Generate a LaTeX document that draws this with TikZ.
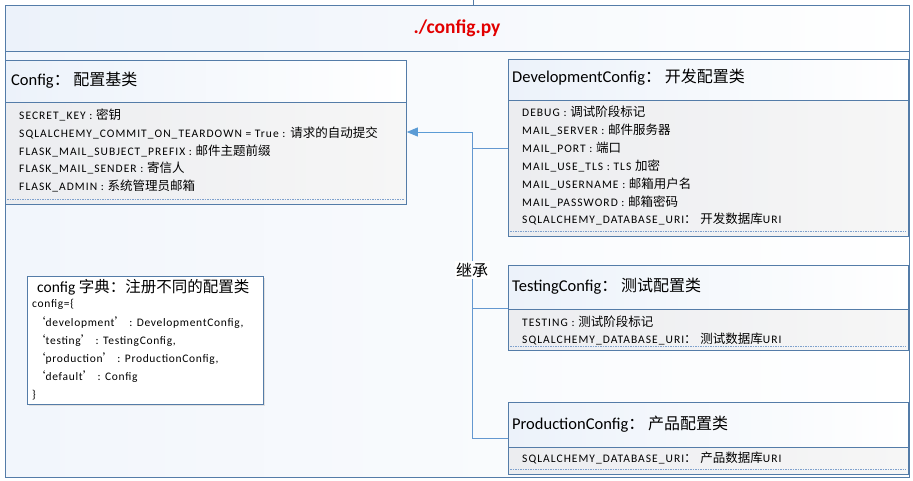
\documentclass[tikz,border=0pt]{standalone}
\usepackage{fontspec}
\setmainfont{Carlito}
\newfontfamily\cn{Noto Sans CJK SC}
\newfontfamily\itemfont[LetterSpace=9]{Carlito}
\newfontfamily\dictfont[LetterSpace=6]{Carlito}
\usetikzlibrary{arrows.meta}
\definecolor{bd}{RGB}{84,124,168}
\definecolor{dsh}{RGB}{125,160,205}
\definecolor{lnk}{RGB}{100,152,208}
\definecolor{arr}{RGB}{91,155,213}
\definecolor{hdrL}{RGB}{236,242,250}
\definecolor{bodyL}{RGB}{236,237,240}
\definecolor{bodyR}{RGB}{246,246,246}
\definecolor{ttl}{RGB}{226,0,0}
\newcommand{\zh}[1]{{\cn #1}}
\newcommand{\hz}[1]{{\cn\fontsize{16}{18}\selectfont #1}}
\newcommand{\iz}[1]{{\cn\fontsize{12.5}{14}\selectfont #1}}
\tikzset{
  frame/.style={draw=bd, line width=0.8pt},
  classbox/.style={draw=bd, line width=0.8pt, anchor=north west, inner sep=0pt},
  hdrfill/.style={left color=hdrL, right color=white},
  bodyfill/.style={left color=bodyL, right color=bodyR},
  sep/.style={draw=bd, line width=0.7pt},
  dsep/.style={draw=dsh, dashed, dash pattern=on 1.5pt off 1pt, line width=0.5pt},
  head/.style={anchor=west, inner sep=0pt, font=\fontsize{16.5}{19}\selectfont},
  item/.style={anchor=west, inner sep=0pt, font=\itemfont\fontsize{11.5}{13}\selectfont},
  ditem/.style={anchor=west, inner sep=0pt, font=\dictfont\fontsize{11.5}{13}\selectfont},
  link/.style={draw=lnk, line width=0.8pt},
  lbl/.style={fill=white, inner sep=1.5pt, font=\cn\fontsize{16}{18}\selectfont}
}
\begin{document}
\begin{tikzpicture}[x=1pt,y=-1pt]
\useasboundingbox (0,0) rectangle (913,480);
% outer container
\shade[left color=hdrL!70, right color=white] (5,51) rectangle (909,477);
\shade[left color=hdrL, right color=white] (5,5) rectangle (909,51);
\node[classbox, minimum width=904pt, minimum height=472pt] (outer) at (5,5) {};
\draw[frame] (5,51) -- (909,51);
\coordinate (stubtop) at (473,0);
\draw[frame] (stubtop) -- (outer.north -| stubtop);
\node[font=\bfseries\fontsize{19.5}{21}\selectfont, text=ttl] (title) at (457,28) {./config.py};

% Config box
\shade[hdrfill] (5,60) rectangle (406,102);
\shade[bodyfill] (5,102) rectangle (406,204);
\draw[sep] (5,102) -- (406,102);
\draw[dsep] (7,199) -- (404,199);
\node[classbox, minimum width=401pt, minimum height=144pt] (cfg) at (5,60) {};
\node[head] (cfgh) at (11,80) {Config\hz{：} \hz{配置基类}};
\node[item] (c1) at (19,115) {SECRET\_KEY : \iz{密钥}};
\node[item] (c2) at (19,133) {SQLALCHEMY\_COMMIT\_ON\_TEARDOWN = True : \iz{请求的自动提交}};
\node[item] (c3) at (19,151) {FLASK\_MAIL\_SUBJECT\_PREFIX : \iz{邮件主题前缀}};
\node[item] (c4) at (19,168) {FLASK\_MAIL\_SENDER : \iz{寄信人}};
\node[item] (c5) at (19,186) {FLASK\_ADMIN : \iz{系统管理员邮箱}};

% DevelopmentConfig
\shade[hdrfill] (508,59) rectangle (908,100);
\shade[bodyfill] (508,100) rectangle (908,236);
\draw[sep] (508,100) -- (908,100);
\draw[dsep] (510,231) -- (906,231);
\node[classbox, minimum width=400pt, minimum height=177pt] (dev) at (508,59) {};
\node[head] (devh) at (512,77) {DevelopmentConfig\hz{：} \hz{开发配置类}};
\node[item] (d1) at (522,112) {DEBUG : \iz{调试阶段标记}};
\node[item] (d2) at (522,130) {MAIL\_SERVER : \iz{邮件服务器}};
\node[item] (d3) at (522,148) {MAIL\_PORT : \iz{端口}};
\node[item] (d4) at (522,166) {MAIL\_USE\_TLS : TLS \iz{加密}};
\node[item] (d5) at (522,184) {MAIL\_USERNAME : \iz{邮箱用户名}};
\node[item] (d6) at (522,202) {MAIL\_PASSWORD : \iz{邮箱密码}};
\node[item] (d7) at (522,219) {SQLALCHEMY\_DATABASE\_URI\iz{：} \iz{开发数据库}URI};

% TestingConfig
\shade[hdrfill] (508,265) rectangle (908,309);
\shade[bodyfill] (508,309) rectangle (908,350);
\draw[sep] (508,309) -- (908,309);
\draw[dsep] (510,346) -- (906,346);
\node[classbox, minimum width=400pt, minimum height=85pt] (test) at (508,265) {};
\node[head] (testh) at (512,286) {TestingConfig\hz{：} \hz{测试配置类}};
\node[item] (t1) at (522,322) {TESTING : \iz{测试阶段标记}};
\node[item] (t2) at (522,339) {SQLALCHEMY\_DATABASE\_URI\iz{：} \iz{测试数据库}URI};

% ProductionConfig
\shade[hdrfill] (508,402) rectangle (908,447);
\shade[bodyfill] (508,447) rectangle (908,474);
\draw[sep] (508,447) -- (908,447);
\draw[dsep] (510,469) -- (906,469);
\node[classbox, minimum width=400pt, minimum height=72pt] (prod) at (508,402) {};
\node[head] (prodh) at (512,424) {ProductionConfig\hz{：} \hz{产品配置类}};
\node[item] (p1) at (522,458) {SQLALCHEMY\_DATABASE\_URI\iz{：} \iz{产品数据库}URI};

% config dict box
\fill[black!12] (29,278) rectangle (265,406);
\fill[white] (27,276) rectangle (263,404);
\node[classbox, minimum width=236pt, minimum height=128pt] (dict) at (27,276) {};
\node[anchor=west, inner sep=0pt, font=\fontsize{15.5}{17}\selectfont] (dicth) at (37,287) {config \zh{字典：注册不同的配置类}};
\node[ditem] (k0) at (32,304) {config=\{};
\node[ditem] (k1) at (34,323) {\zh{‘}development\zh{’} : DevelopmentConfig,};
\node[ditem] (k2) at (34,341) {\zh{‘}testing\zh{’} : TestingConfig,};
\node[ditem] (k3) at (34,359) {\zh{‘}production\zh{’} : ProductionConfig,};
\node[ditem] (k4) at (34,377) {\zh{‘}default\zh{’} : Config};
\node[ditem] (k5) at (32,395) {\}};

% inheritance connectors
\coordinate (bus) at (472,132);
\draw[link] (dev.west) -| (bus);
\draw[link] (test.west) -| (bus);
\draw[link] (prod.west) -| (bus);
\draw[link, -{Triangle[length=11pt,width=9pt]}, arr] (bus) -- (cfg.east |- bus);
\node[lbl] (inh) at (472,270) {继承};
\end{tikzpicture}
\end{document}
